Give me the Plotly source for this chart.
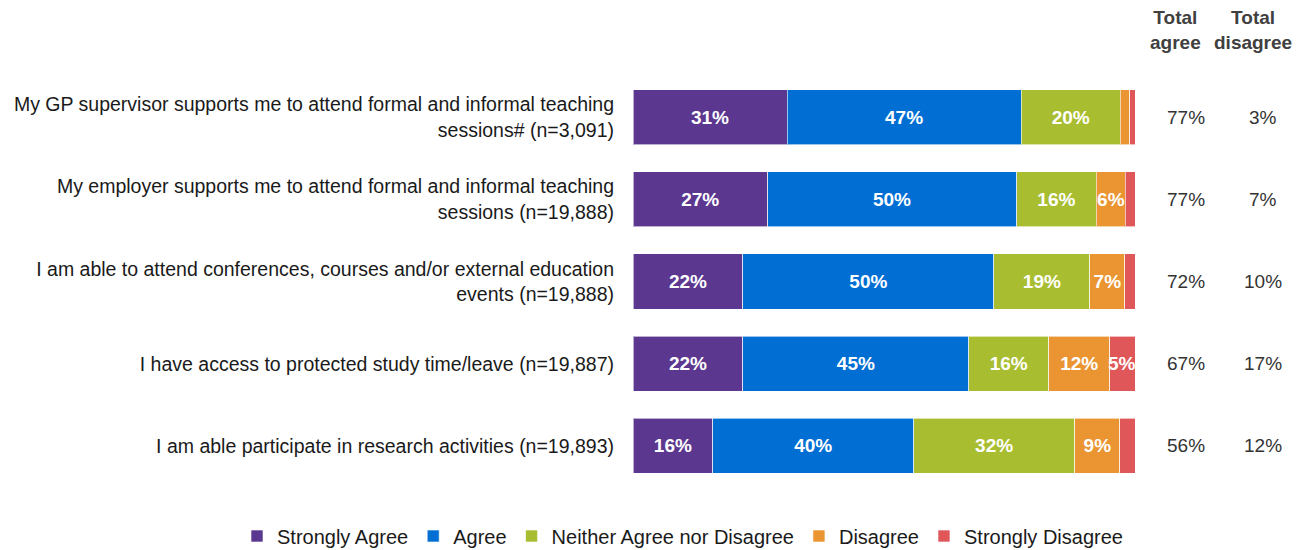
import plotly.graph_objects as go

categories = [
    "My GP supervisor supports me to attend formal and informal teaching<br>sessions# (n=3,091)",
    "My employer supports me to attend formal and informal teaching<br>sessions (n=19,888)",
    "I am able to attend conferences, courses and/or external education<br>events (n=19,888)",
    "I have access to protected study time/leave (n=19,887)",
    "I am able participate in research activities (n=19,893)",
]
series_names = ["Strongly Agree", "Agree", "Neither Agree nor Disagree", "Disagree", "Strongly Disagree"]
strongly_agree = [30.7, 26.8, 21.9, 21.9, 15.9]
agree = [46.6, 49.6, 50.0, 45.0, 40.0]
neither = [19.8, 15.9, 19.1, 15.9, 32.1]
disagree = [1.9, 5.8, 7.0, 12.2, 9.0]
strongly_disagree = [1.0, 1.9, 2.0, 5.0, 3.0]
total_agree = [77, 77, 72, 67, 56]
total_disagree = [3, 7, 10, 17, 12]
colors = ["#5B3790", "#006ED3", "#A8BD2F", "#EA9432", "#E0575A"]

series_values = [strongly_agree, agree, neither, disagree, strongly_disagree]

FONT = "Liberation Sans, Arial, sans-serif"

# page body has an 8px default margin: work in screen pixels, convert to figure pixels
OFF = 8
W, H = 1309 - OFF, 550 - OFF
L, R = 633 - OFF, 1135 - OFF
T, B = 76 - OFF, 487 - OFF

def px_to_paper_x(px):
    return (px - OFF - L) / (R - L)

def px_to_paper_y(py):
    return (B - (py - OFF)) / (B - T)

def label(v):
    return f"{int(v + 0.5)}%" if v >= 4.5 else ""

fig = go.Figure()
annotations = []
base = [0.0] * len(categories)
for name, vals, col in zip(series_names, series_values, colors):
    last = name == "Strongly Disagree"
    texts = [label(v) for v in vals]
    fig.add_trace(go.Bar(
        y=categories, x=vals, name=name, orientation="h",
        marker=dict(color=col, line=dict(color="rgba(255,255,255,0.6)", width=1)),
        text=None if last else texts, textposition="inside",
        insidetextanchor="middle", textangle=0,
        textfont=dict(family=FONT, size=19, color="white", weight="bold"),
        constraintext="none", cliponaxis=False,
    ))
    if last:
        # narrow end segments: label drawn as annotation so it is not dropped
        for i, (cat, v) in enumerate(zip(categories, vals)):
            if texts[i]:
                annotations.append(dict(x=base[i] + v / 2, xref="x", y=cat, yref="y",
                                        text=f"<b>{texts[i]}</b>", showarrow=False,
                                        font=dict(family=FONT, size=19, color="white"),
                                        xanchor="center", yanchor="middle"))
    base = [b + v for b, v in zip(base, vals)]

for i, cat in enumerate(categories):
    annotations.append(dict(x=px_to_paper_x(1186), xref="paper", y=cat, yref="y",
                            text=f"{total_agree[i]}%", showarrow=False,
                            font=dict(family=FONT, size=19, color="#333333"), xanchor="center"))
    annotations.append(dict(x=px_to_paper_x(1263), xref="paper", y=cat, yref="y",
                            text=f"{total_disagree[i]}%", showarrow=False,
                            font=dict(family=FONT, size=19, color="#333333"), xanchor="center"))
for lab, px in [("<b>Total<br>agree</b>", 1175), ("<b>Total<br>disagree</b>", 1253)]:
    annotations.append(dict(x=px_to_paper_x(px), xref="paper", y=px_to_paper_y(30), yref="paper",
                            text=lab, showarrow=False,
                            font=dict(family=FONT, size=19, color="#404040"),
                            xanchor="center", yanchor="middle"))

fig.update_layout(
    barmode="stack",
    width=W, height=H,
    margin=dict(l=L, r=W - R, t=T, b=H - B, pad=0, autoexpand=False),
    paper_bgcolor="white", plot_bgcolor="white",
    font=dict(family=FONT, size=19, color="#1a1a1a"),
    bargap=0.33,
    xaxis=dict(range=[0, 100], visible=False, fixedrange=True),
    yaxis=dict(autorange="reversed", showgrid=False, showline=False, ticks="",
               automargin=False, ticklabelstandoff=18,
               tickfont=dict(family=FONT, size=19.5, color="#1a1a1a")),
    legend=dict(orientation="h", xref="paper", yref="paper",
                x=px_to_paper_x(237), xanchor="left",
                y=px_to_paper_y(536), yanchor="middle",
                font=dict(family=FONT, size=20, color="#1a1a1a"), traceorder="normal",
                itemwidth=30),
    annotations=annotations,
    showlegend=True,
)

fig.write_html("out.html")
